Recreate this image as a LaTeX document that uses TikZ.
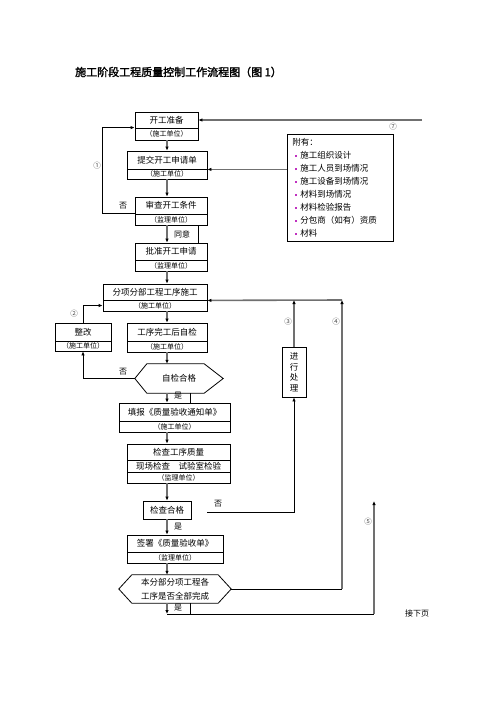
\documentclass[tikz,border=0pt]{standalone}
\usepackage{fontspec}
\setmainfont{Noto Sans CJK SC}[AutoFakeBold=2]
\usetikzlibrary{arrows.meta}
\definecolor{lngray}{HTML}{707070}
\definecolor{bulmag}{HTML}{C030C0}
\newcommand{\bul}{\hspace*{3pt}\textcolor{bulmag}{\rule[1.5pt]{2pt}{2pt}}\hspace{3pt}}

\begin{document}
\begin{tikzpicture}[
    x=1pt, y=-1pt,
    >={Latex[length=4pt,width=3.5pt,color=black]},
    font=\fontsize{8.5}{10}\selectfont,
    every node/.style={align=center, inner sep=0pt},
    box/.style={draw, line width=0.8pt},
    unit/.style={draw, line width=0.8pt, font=\fontsize{7}{8}\selectfont},
    arr/.style={->, draw=lngray, line width=1.4pt},
    garr/.style={->, draw=lngray, line width=1.6pt},
    fine/.style={line width=0.8pt},
    lbl/.style={font=\fontsize{8}{9}\selectfont},
    num/.style={font=\fontsize{7.5}{8}\selectfont, text=black!70}
]
\useasboundingbox (0,0) rectangle (496,702);

\node[anchor=west, font=\bfseries\fontsize{11}{12}\selectfont] (title) at (75,72) {施工阶段工程质量控制工作流程图（图 1）};

\coordinate (ax) at (167,0);
\coordinate (sx) at (190,0);

% main column
\node[box, minimum width=63, minimum height=16] (kg) at (166.5,120) {开工准备};
\node[unit, minimum width=63, minimum height=12] (kgu) at (166.5,134) {（施工单位）};
\node[box, minimum width=80, minimum height=18] (tj) at (167,160) {提交开工申请单};
\node[unit, minimum width=80, minimum height=10] (tju) at (167,174) {（施工单位）};
\node[box, minimum width=72, minimum height=17] (sc) at (171,205.5) {审查开工条件};
\node[unit, minimum width=72, minimum height=11] (scu) at (171,219.5) {（监理单位）};
\node[box, minimum width=72, minimum height=17] (pz) at (171,251.5) {批准开工申请};
\node[unit, minimum width=72, minimum height=11] (pzu) at (171,265.5) {（监理单位）};
\node[box, minimum width=104, minimum height=16] (fx) at (155,292) {分项分部工程工序施工};
\node[unit, minimum width=104, minimum height=11] (fxu) at (155,305.5) {（施工单位）};
\node[box, minimum width=56, minimum height=18] (zg) at (83,332) {整改};
\node[unit, minimum width=56, minimum height=10] (zgu) at (83,346) {（施工单位）};
\node[box, minimum width=80, minimum height=18] (gx) at (167,332) {工序完工后自检};
\node[unit, minimum width=80, minimum height=11] (gxu) at (167,346.5) {（施工单位）};
\node[minimum width=88, minimum height=29] (zj) at (179,378.5) {自检合格};
\draw[fine] (zj.west) -- ([xshift=12]zj.north west) -- ([xshift=-19]zj.north east) -- (zj.east)
    -- ([xshift=-19]zj.south east) -- ([xshift=12]zj.south west) -- cycle;
\node[box, minimum width=111, minimum height=18] (tb) at (174.5,412) {填报《质量验收通知单》};
\node[unit, minimum width=111, minimum height=11] (tbu) at (174.5,426.5) {（施工单位）};
\node[box, minimum width=103, minimum height=16] (jc) at (178.5,452) {检查工序质量};
\node[box, minimum width=103, minimum height=12] (jcm) at (178.5,466) {现场检查\quad 试验室检验};
\node[unit, minimum width=103, minimum height=11] (jcu) at (178.5,477.5) {（监理单位）};
\node[box, minimum width=48, minimum height=18] (hg) at (167,510) {检查合格};
\node[box, minimum width=96, minimum height=17] (qs) at (175,543.5) {签署《质量验收单》};
\node[unit, minimum width=96, minimum height=11] (qsu) at (175,557.5) {（监理单位）};
\node[minimum width=112, minimum height=28, font=\fontsize{8.5}{14}\selectfont] (wc) at (175,589) {本分部分项工程各\\工序是否全部完成};
\draw[fine] (wc.west) -- ([xshift=13]wc.north west) -- ([xshift=-13]wc.north east) -- (wc.east)
    -- ([xshift=-13]wc.south east) -- ([xshift=13]wc.south west) -- cycle;

% side boxes
\node[draw, line width=0.8pt, anchor=north west, text width=96, minimum height=107, inner xsep=5,
      align=left, font=\fontsize{8.5}{13}\selectfont] (fy) at (287,134)
    {附有：\\ \bul 施工组织设计\\ \bul 施工人员到场情况\\ \bul 施工设备到场情况\\ \bul 材料到场情况\\
     \bul 材料检验报告\\ \bul 分包商（如有）资质\\ \bul 材料};
\node[box, minimum width=24, minimum height=50, font=\fontsize{8.5}{10.5}\selectfont] (jx) at (294,372) {进\\行\\处\\理};

% labels
\node[lbl] (ty) at (182,234) {同意};
\node[lbl] (no1) at (123,206) {否};
\node[lbl] (no2) at (123,372) {否};
\node[lbl] (no3) at (218,504) {否};
\node[lbl] (yes1) at (178,396) {是};
\node[lbl] (yes2) at (178,527) {是};
\node[lbl] (yes3) at (178,608) {是};
\node[num] (n1) at (97,166) {①};
\node[num] (n2) at (74,314) {②};
\node[num] (n3) at (288,322) {③};
\node[num] (n4) at (336,322) {④};
\node[num] (n5) at (368,522) {⑤};
\node[num] (n7) at (393,127) {⑦};
\node[lbl] (next) at (417,613) {接下页};

% main arrows
\draw[arr] (kgu.south -| ax) -- (tj.north -| ax);
\draw[arr] (tju.south -| ax) -- (sc.north -| ax);
\draw[arr] (scu.south -| ax) -- (pz.north -| ax);
\draw[arr] (pzu.south -| ax) -- (fx.north -| ax);
\draw[arr] (fxu.south -| ax) -- (gx.north -| ax);
\draw[arr] (gxu.south -| ax) -- (zj.north -| ax);
\draw[arr] (zj.south -| ax) -- (tb.north -| ax);
\draw[arr] (tbu.south -| ax) -- (jc.north -| ax);
\draw[arr] (jcu.south -| ax) -- (hg.north -| ax);
\draw[arr] (hg.south -| ax) -- (qs.north -| ax);
\draw[arr] (qsu.south -| ax) -- (wc.north -| ax);
\draw[fine] (scu.south -| kg.east) -- (pz.north -| kg.east);
\draw[fine] (zj.south -| sx) -- (tb.north -| sx);

% feedback
\coordinate (r7) at (422,120);
\draw[garr] (r7) -- (kg.east);
\draw[garr] (fy.west |- tj.south east) -- (tj.south east);
\draw[->, fine] (scu.north west) -- ++(-32,0) |- (kgu.north west);
\draw[->, fine] (zg.north) |- (fxu.west);
\draw[->, fine] (zj.west) -| (zgu.south);
\coordinate (c4) at (342,300);
\draw[garr] (c4) -- (fx.south east);
\draw[garr] (jx.north) -- (jx.north |- c4);
\coordinate (s3) at (207,512);
\draw[->, fine] (s3) -| (jx.south);
\draw[fine] (wc.east) -- (wc.east -| c4);
\draw[garr] (wc.east -| c4) -- (c4);
\coordinate (c5) at (167,614);
\coordinate (t5) at (374,501);
\draw[arr] (wc.south -| ax) -- (c5);
\draw[fine] (wc.south -| sx) -- (c5 -| sx);
\draw[fine] (c5) -- (c5 -| t5);
\draw[garr] (c5 -| t5) -- (t5);
\end{tikzpicture}
\end{document}
